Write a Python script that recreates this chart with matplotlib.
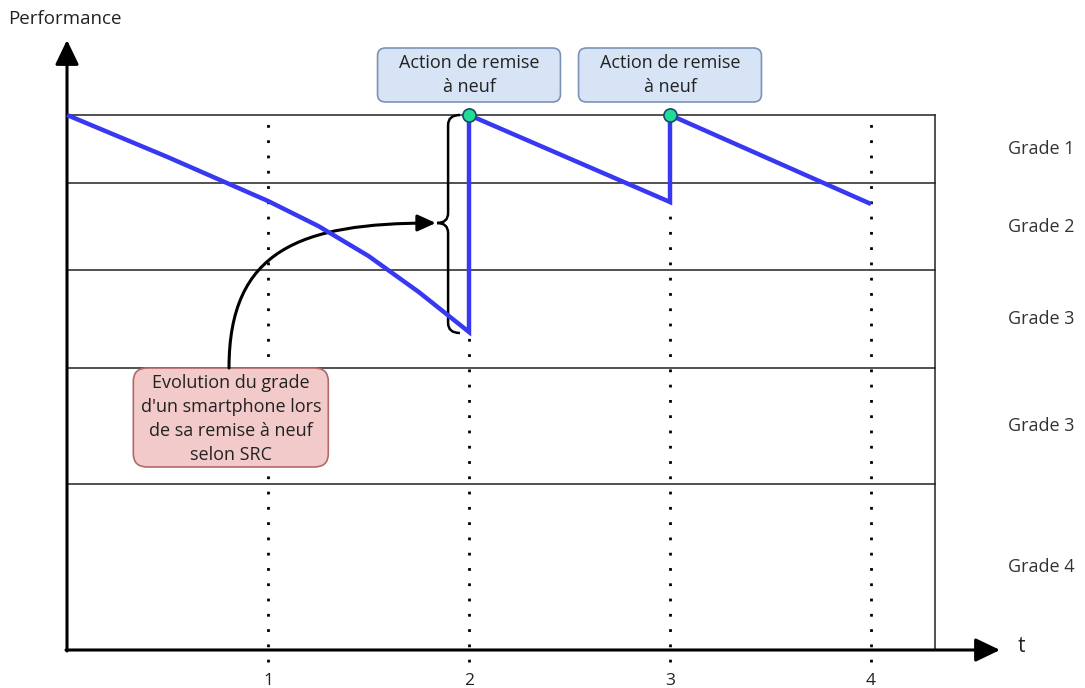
import matplotlib
matplotlib.use('Agg')
import matplotlib.pyplot as plt
from matplotlib.patches import FancyBboxPatch, FancyArrowPatch, PathPatch
from matplotlib.path import Path

plt.rcParams['font.family'] = ['Open Sans', 'DejaVu Sans']

# --- data (t in years-ish units, performance in arbitrary units) ---
grade_bounds = [535, 467, 380, 282, 166, 0]
grade_labels = ['Grade 1', 'Grade 2', 'Grade 3', 'Grade 3', 'Grade 4']
t_ticks = [1, 2, 3, 4]

perf_t = [0, 0.25, 0.5, 0.75, 1.0, 1.25, 1.5, 1.75, 2.0, 2.0, 3.0, 3.0, 4.0]
perf_v = [535, 514, 493, 471, 449, 424, 394, 358, 318, 535, 448, 535, 446]

refurb_t = [2, 3]
refurb_v = [535, 535]

box_text = "Action de remise\nà neuf"
note_text = "Evolution du grade\nd'un smartphone lors\nde sa remise à neuf\nselon SRC"

W, H = 1085, 688
fig = plt.figure(figsize=(W / 100, H / 100), dpi=100)
ax = fig.add_axes([67 / W, 38 / H, 933 / W, 610 / H])
xmax, ymax = 933 / 201, 610
ax.set_xlim(0, xmax)
ax.set_ylim(0, ymax)
ax.axis('off')

rect_right = 868 / 201
txt_col = '#222222'

# grade bands
for b in grade_bounds[:-1]:
    ax.plot([0, rect_right], [b, b], color='#222222', lw=1.1, zorder=1)
ax.plot([rect_right, rect_right], [0, grade_bounds[0]], color='#222222', lw=1.1, zorder=1)
for i, lab in enumerate(grade_labels):
    mid = (grade_bounds[i] + grade_bounds[i + 1]) / 2
    ax.text(4.68, mid, lab, fontsize=13, color='#333333', va='center', ha='left')

# dotted time markers
for t in t_ticks:
    ax.plot([t, t], [-12, grade_bounds[0] - 6], color='black', lw=2,
            ls=(0, (1, 4.5)), zorder=2, clip_on=False)
    ax.text(t, -31, str(t), fontsize=12.5, ha='center', va='center', color=txt_col)

# axes arrows
arrow_kw = dict(arrowstyle='-|>,head_length=0.75,head_width=0.36', lw=2.2,
                color='black', mutation_scale=20, shrinkA=0, shrinkB=0)
ax.annotate('', xy=(0, ymax), xytext=(0, -1), arrowprops=arrow_kw, annotation_clip=False)
ax.annotate('', xy=(xmax, 0), xytext=(-0.005, 0), arrowprops=arrow_kw, annotation_clip=False)
ax.text(-59 / 201, 631, 'Performance', fontsize=13.5, ha='left', va='center', color=txt_col)
ax.text(4.73, 4, 't', fontsize=15, ha='left', va='center', color=txt_col)

# performance curve
ax.plot(perf_t, perf_v, color='#3838f2', lw=3.2, zorder=5, solid_joinstyle='miter',
        solid_capstyle='butt', clip_on=False)
ax.scatter(refurb_t, refurb_v, s=90, color='#20dc96', edgecolor='#1a4a6a', lw=1.2,
           zorder=6, clip_on=False)

# blue boxes
for t in refurb_t:
    bx = FancyBboxPatch((t - 0.455, 548), 0.91, 54,
                        boxstyle='round,pad=0,rounding_size=0.04', mutation_aspect=190,
                        fc='#d6e4f5', ec='#7b93b5', lw=1.2, zorder=4, clip_on=False)
    ax.add_patch(bx)
    ax.text(t, 575, box_text, fontsize=13, ha='center', va='center',
            color=txt_col, linespacing=1.45, zorder=7)

# red note box
nb = FancyBboxPatch((0.33, 183), 0.97, 99,
                    boxstyle='round,pad=0,rounding_size=0.07', mutation_aspect=190,
                    fc='#f3caca', ec='#b06a6a', lw=1.2, zorder=4)
ax.add_patch(nb)
ax.text(0.815, 231, note_text, fontsize=13, ha='center', va='center',
        color=txt_col, linespacing=1.42, zorder=7)

# curly brace
bx_, tip, end = 1.896, 1.841, 1.955
top, mid, bot = 535, 427, 317
verts = [(end, top), (bx_, top), (bx_, top - 10),
         (bx_, mid + 10),
         (bx_, mid), (tip, mid),
         (bx_, mid), (bx_, mid - 10),
         (bx_, bot + 10),
         (bx_, bot), (end, bot)]
codes = [Path.MOVETO, Path.CURVE3, Path.CURVE3, Path.LINETO,
         Path.CURVE3, Path.CURVE3, Path.CURVE3, Path.CURVE3,
         Path.LINETO, Path.CURVE3, Path.CURVE3]
ax.add_patch(PathPatch(Path(verts, codes), fc='none', ec='black', lw=1.8, zorder=4))

# curved arrow from note to brace
cverts = [(0.806, 282), (0.806, 400), (1.16, 427), (1.835, 427)]
ccodes = [Path.MOVETO, Path.CURVE4, Path.CURVE4, Path.CURVE4]
arr = FancyArrowPatch(path=Path(cverts, ccodes),
                      arrowstyle='-|>,head_length=0.55,head_width=0.25',
                      mutation_scale=20, lw=2.2, color='black', zorder=4,
                      transform=ax.transData)
ax.add_patch(arr)

fig.savefig('out.png', dpi=100, facecolor='white')
